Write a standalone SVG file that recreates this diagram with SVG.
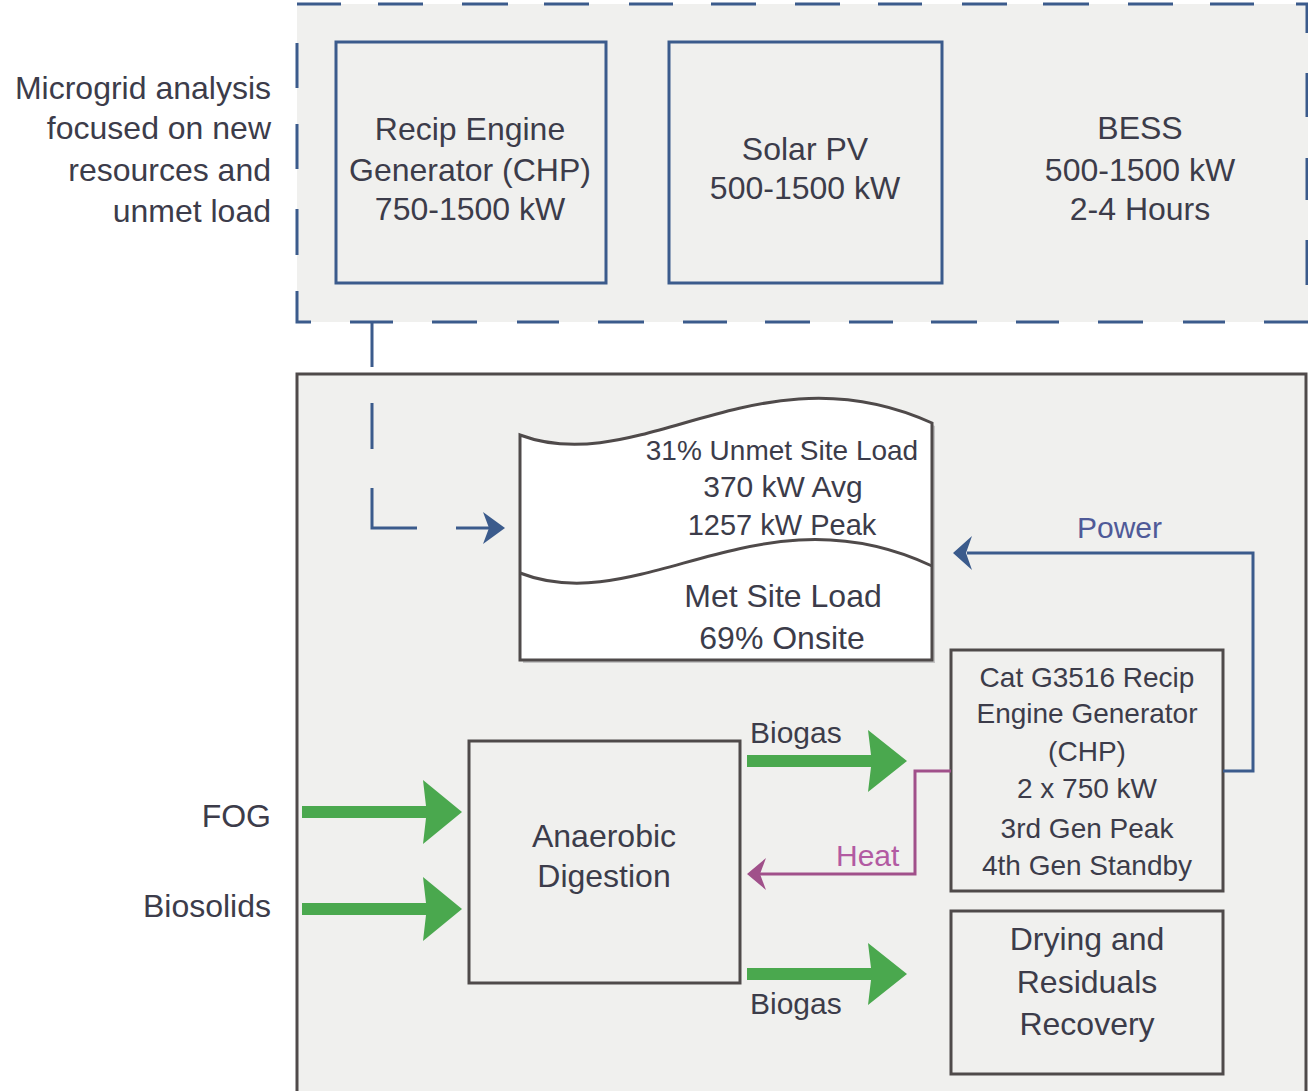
<svg xmlns="http://www.w3.org/2000/svg" width="1308" height="1091" viewBox="0 0 1308 1091">
<style>
text{font-family:"Liberation Sans",Arial,sans-serif;fill:#3c3c4a}
.t32{font-size:32px}
.t30{font-size:30px}
.t28{font-size:28px}
.mid{text-anchor:middle}
.end{text-anchor:end}
.blue{fill:none;stroke:#3b5b8c;stroke-width:3}
.gray{fill:#f0f0ee;stroke:#4f4a4a;stroke-width:3}
.green{fill:#4aa84e}
</style>
<rect x="0" y="0" width="1308" height="1091" fill="#ffffff"/>
<g id="microgrid-region">
<rect x="297" y="4" width="1011" height="318" fill="#f0f0ee"/>
<path class="blue" d="M297,4H341M378,4H423M462,4H508M544,4H589M629,4H673M711,4H756M795,4H840M878,4H922M962,4H1007M1043,4H1089M1128,4H1173M1210,4H1254M1296,4H1307V33M1307,73V117M1307,158V200M1307,240V285M1308,322H1264M1225,322H1183M1143,322H1098M1059,322H1016M977,322H931M893,322H849M810,322H765M727,322H683M644,322H598M559,322H517M477,322H432M393,322H350M311,322H297V291M297,255V209M297,169V124M297,88V43"/>
</g>
<g id="microgrid-label">
<text class="t32 end" x="271" y="99">Microgrid analysis</text>
<text class="t32 end" x="271" y="139">focused on new</text>
<text class="t32 end" x="271" y="181">resources and</text>
<text class="t32 end" x="271" y="222">unmet load</text>
</g>
<g id="recip-new">
<rect class="blue" x="336" y="42" width="270" height="241"/>
<text class="t32 mid" x="470" y="140">Recip Engine</text>
<text class="t32 mid" x="470" y="181">Generator (CHP)</text>
<text class="t32 mid" x="470" y="220">750-1500 kW</text>
</g>
<g id="solar-pv">
<rect class="blue" x="669" y="42" width="273" height="241"/>
<text class="t32 mid" x="805" y="160">Solar PV</text>
<text class="t32 mid" x="805" y="199">500-1500 kW</text>
</g>
<g id="bess">
<text class="t32 mid" x="1140" y="139">BESS</text>
<text class="t32 mid" x="1140" y="181">500-1500 kW</text>
<text class="t32 mid" x="1140" y="220">2-4 Hours</text>
</g>
<g id="site-region">
<rect class="gray" x="297" y="374" width="1009" height="740"/>
</g>
<g id="site-load">
<path d="M523,438 C643,483 763,348 935,426 L935,663 L523,663 Z" fill="#c4c4c4"/>
<path d="M520,435 C640,480 760,345 932,423 L932,660 L520,660 Z" fill="#ffffff" stroke="#4f4a4a" stroke-width="3"/>
<path d="M520,573 C640,620 760,485 932,566" fill="none" stroke="#4f4a4a" stroke-width="3"/>
<text class="t28 mid" x="782" y="460">31% Unmet Site Load</text>
<text class="t30 mid" x="783" y="497">370 kW Avg</text>
<text class="mid" x="782" y="535" style="font-size:29px">1257 kW Peak</text>
<text class="t32 mid" x="783" y="607">Met Site Load</text>
<text class="t32 mid" x="782" y="649">69% Onsite</text>
</g>
<g id="cat-chp">
<rect class="gray" x="951" y="650" width="272" height="241"/>
<text class="t28 mid" x="1087" y="687">Cat G3516 Recip</text>
<text class="t28 mid" x="1087" y="723">Engine Generator</text>
<text class="t28 mid" x="1087" y="761">(CHP)</text>
<text class="t28 mid" x="1087" y="798">2 x 750 kW</text>
<text class="t28 mid" x="1087" y="838">3rd Gen Peak</text>
<text class="t28 mid" x="1087" y="875">4th Gen Standby</text>
</g>
<g id="anaerobic-digestion">
<rect class="gray" x="469" y="741" width="271" height="242"/>
<text class="t32 mid" x="604" y="847">Anaerobic</text>
<text class="t32 mid" x="604" y="887">Digestion</text>
</g>
<g id="drying">
<rect class="gray" x="951" y="911" width="272" height="163"/>
<text class="t32 mid" x="1087" y="950">Drying and</text>
<text class="t32 mid" x="1087" y="993">Residuals</text>
<text class="t32 mid" x="1087" y="1035">Recovery</text>
</g>
<g id="inputs">
<text class="t32 end" x="271" y="827">FOG</text>
<text class="t32 end" x="271" y="917">Biosolids</text>
</g>
<g id="connectors">
<path d="M372,322V367M372,403V449M372,488V528H417M456,528H490" fill="none" stroke="#3b5b8c" stroke-width="3"/>
<polygon points="505,528 483,512 489,528 483,544" fill="#3b5b8c"/>
<path d="M1223,771H1253V553H967" fill="none" stroke="#3b5b8c" stroke-width="3"/>
<polygon points="953,553 972,536 966,553 972,570" fill="#3b5b8c"/>
<text class="t30" x="1077" y="538" style="fill:#4f5a98">Power</text>
<path d="M951,771H915V874H760" fill="none" stroke="#a0508a" stroke-width="3"/>
<polygon points="747,874 766,858 760,874 766,890" fill="#a0508a"/>
<text class="t30" x="836" y="866" style="fill:#b25aa2">Heat</text>
<polygon class="green" points="302,806 426,806 423,780 462,812 423,844 426,818 302,818"/>
<polygon class="green" points="302,903 426,903 423,877 462,909 423,941 426,915 302,915"/>
<polygon class="green" points="747,755 871,755 868,730 907,761 868,792 871,767 747,767"/>
<text class="t30" x="750" y="743">Biogas</text>
<polygon class="green" points="747,968 871,968 868,943 907,974 868,1005 871,980 747,980"/>
<text class="t30" x="750" y="1014">Biogas</text>
</g>
</svg>
